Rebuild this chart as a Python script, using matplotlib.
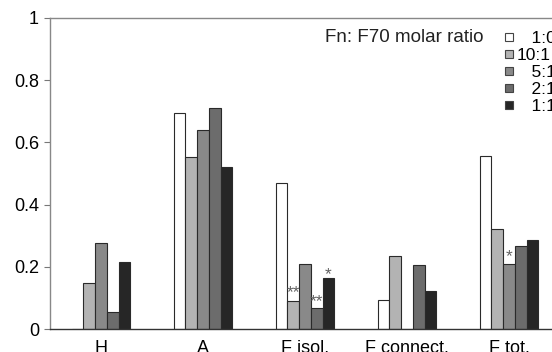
import matplotlib
matplotlib.use("Agg")
import matplotlib.pyplot as plt
from matplotlib.lines import Line2D
import numpy as np

plt.rcParams['font.family'] = ['Liberation Sans', 'DejaVu Sans']

categories = ["H", "A", "F isol.", "F connect.", "F tot."]
series_labels = ["1:0", "10:1", "5:1", "2:1", "1:1"]
values = {
    "1:0":  [0.0,   0.695, 0.468, 0.093, 0.557],
    "10:1": [0.148, 0.554, 0.090, 0.234, 0.322],
    "5:1":  [0.277, 0.640, 0.210, 0.0,   0.210],
    "2:1":  [0.055, 0.712, 0.067, 0.205, 0.268],
    "1:1":  [0.214, 0.520, 0.163, 0.122, 0.285],
}
# significance marks: (category index, series, text)
marks = [(2, "10:1", "**"), (2, "2:1", "**"), (2, "1:1", "*"), (4, "5:1", "*")]
yticks = [0, 0.2, 0.4, 0.6, 0.8, 1.0]
ytick_labels = ["0", "0.2", "0.4", "0.6", "0.8", "1"]

colors = ["#ffffff", "#b3b3b3", "#898989", "#6c6c6c", "#262626"]

W, H = 552, 352
fig = plt.figure(figsize=(W / 100, H / 100), dpi=100)
ax = fig.add_axes([50 / W, 1 - 329 / H, 510 / W, (329 - 18) / H])

x = np.arange(len(categories))
bw = 0.115
for i, s in enumerate(series_labels):
    ax.bar(x + (i - 2) * bw, values[s], width=bw, color=colors[i],
           edgecolor="#2a2a2a", linewidth=0.8, zorder=2)

mark_offsets = [6, 5, 3, 5]
for (ci, s, txt), off in zip(marks, mark_offsets):
    si = series_labels.index(s)
    ax.annotate(txt, (x[ci] + (si - 2) * bw, values[s][ci]),
                xytext=(0, off), textcoords="offset points",
                ha="center", va="center", fontsize=12.5, color="#606060")

ax.set_xlim(-0.5, 4.5)
ax.set_ylim(0, 1)
ax.set_yticks(yticks)
ax.set_yticklabels(ytick_labels)
ax.set_xticks(x)
ax.set_xticklabels(categories)
ax.tick_params(axis="x", length=0, pad=8, labelsize=13)
ax.tick_params(axis="y", length=4, width=0.8, color="#777777", pad=4, labelsize=13)
for sp in ["left", "top"]:
    ax.spines[sp].set_color("#888888")
    ax.spines[sp].set_linewidth(1.0)
ax.spines["bottom"].set_color("#333333")
ax.spines["bottom"].set_linewidth(1.0)
ax.spines["right"].set_visible(False)

fig.text(325 / W, 1 - 38 / H, "Fn: F70 molar ratio", fontsize=13.5,
         ha="left", va="center", color="#222222")

handles = [Line2D([], [], linestyle="none", marker="s", markersize=5.5,
                  markerfacecolor=c, markeredgecolor="#444444", markeredgewidth=0.8)
           for c in colors]
leg_labels = ["\u2007 1:0", "10:1", "\u2007 5:1", "\u2007 2:1", "\u2007 1:1"]
fig.legend(handles, leg_labels, loc="upper left",
           bbox_to_anchor=(504 / W, 1 - 31 / H), frameon=False,
           fontsize=12.5, handlelength=0.6, handletextpad=0.15,
           borderpad=0, borderaxespad=0, labelspacing=0.1)

fig.savefig("out.png", dpi=100)
